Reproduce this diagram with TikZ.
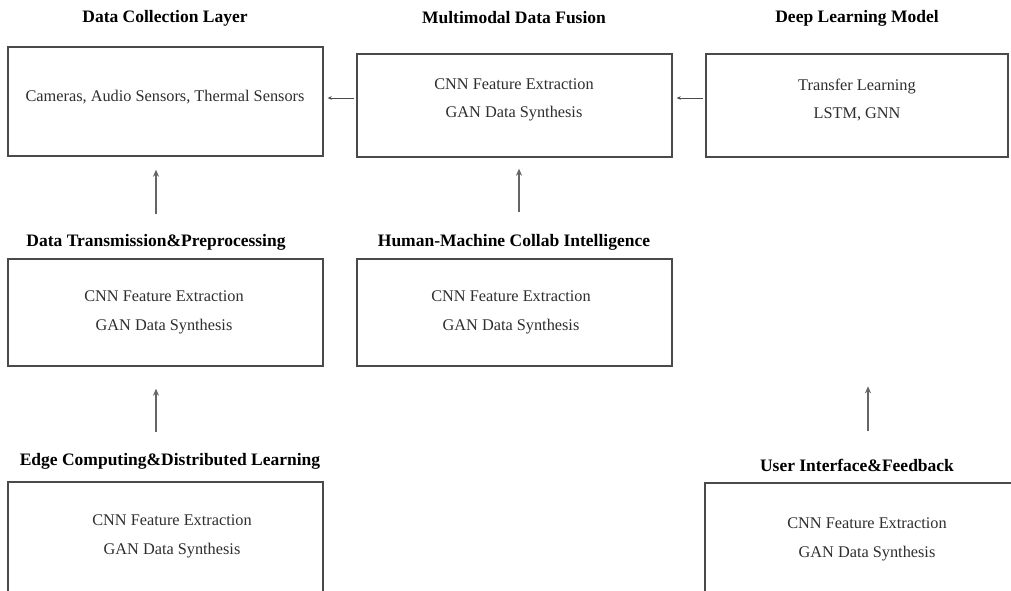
\documentclass[tikz,border=0pt]{standalone}
\usepackage{fontspec}
\setmainfont{Liberation Serif}
\usetikzlibrary{arrows.meta}
\definecolor{linec}{HTML}{4A4A4A}
\definecolor{txtc}{HTML}{2E2E2E}
\tikzset{
  boxst/.style={draw=linec, line width=1.4pt, inner sep=0pt},
  titlest/.style={font=\fontsize{17.5}{20}\selectfont\bfseries, text=black, inner sep=0pt},
  bodyst/.style={font=\fontsize{16.3}{28.5}\selectfont, text=txtc, align=center, inner sep=0pt},
  harr/.style={draw=linec, line width=0.6pt, -{Stealth[length=4pt,width=3.5pt]}},
  varr/.style={draw=linec!85, line width=1.4pt, -{Stealth[length=7pt,width=6pt]}}
}
\begin{document}
\begin{tikzpicture}[x=1pt,y=-1pt]
\useasboundingbox[fill=white] (0,0) rectangle (1011,590);
% boxes
\node[boxst, minimum width=315pt, minimum height=109pt] (b1) at (165.5,101.5) {};
\node[boxst, minimum width=315pt, minimum height=103pt] (b2) at (514.5,105.5) {};
\node[boxst, minimum width=302pt, minimum height=103pt] (b3) at (857,105.5) {};
\node[boxst, minimum width=315pt, minimum height=107pt] (b4) at (165.5,312.5) {};
\node[boxst, minimum width=315pt, minimum height=107pt] (b5) at (514.5,312.5) {};
\node[boxst, minimum width=315pt, minimum height=120pt] (b6) at (165.5,542) {};
\node[boxst, minimum width=310pt, minimum height=120pt] (b7) at (860,543) {};
% titles
\node[titlest] (t1) at (165,18) {Data Collection Layer};
\node[titlest] (t2) at (514,18) {Multimodal Data Fusion};
\node[titlest] (t3) at (857,18) {Deep Learning Model};
\node[titlest] (t4) at (156,242) {Data Transmission\&Preprocessing};
\node[titlest] (t5) at (514,242) {Human-Machine Collab Intelligence};
\node[titlest] (t6) at (170,461) {Edge Computing\&Distributed Learning};
\node[titlest] (t7) at (857,465) {User Interface\&Feedback};
% body texts
\node[bodyst] (x1) at (165,97.5) {Cameras, Audio Sensors, Thermal Sensors};
\node[bodyst] (x2) at (514,100) {CNN Feature Extraction\\GAN Data Synthesis};
\node[bodyst] (x3) at (857,100) {Transfer Learning\\LSTM, GNN};
\node[bodyst] (x4) at (164,312.5) {CNN Feature Extraction\\GAN Data Synthesis};
\node[bodyst] (x5) at (511,312.5) {CNN Feature Extraction\\GAN Data Synthesis};
\node[bodyst] (x6) at (172,536.5) {CNN Feature Extraction\\GAN Data Synthesis};
\node[bodyst] (x7) at (867,539.5) {CNN Feature Extraction\\GAN Data Synthesis};
% arrows
\draw[harr] ([xshift=-2pt]b2.west |- 0,98) -- ([xshift=4pt]b1.east |- 0,98);
\draw[harr] ([xshift=-2pt]b3.west |- 0,98) -- ([xshift=4pt]b2.east |- 0,98);
\draw[varr] ([shift={(-9.5,-44)}]b4.north) -- ([shift={(-9.5,13)}]b1.south);
\draw[varr] ([shift={(4.5,-46)}]b5.north) -- ([shift={(4.5,11)}]b2.south);
\draw[varr] ([shift={(-9.5,-49)}]b6.north) -- ([shift={(-9.5,22)}]b4.south);
\draw[varr] ([shift={(8,-51)}]b7.north) -- ([shift={(8,-96)}]b7.north);
\end{tikzpicture}
\end{document}
